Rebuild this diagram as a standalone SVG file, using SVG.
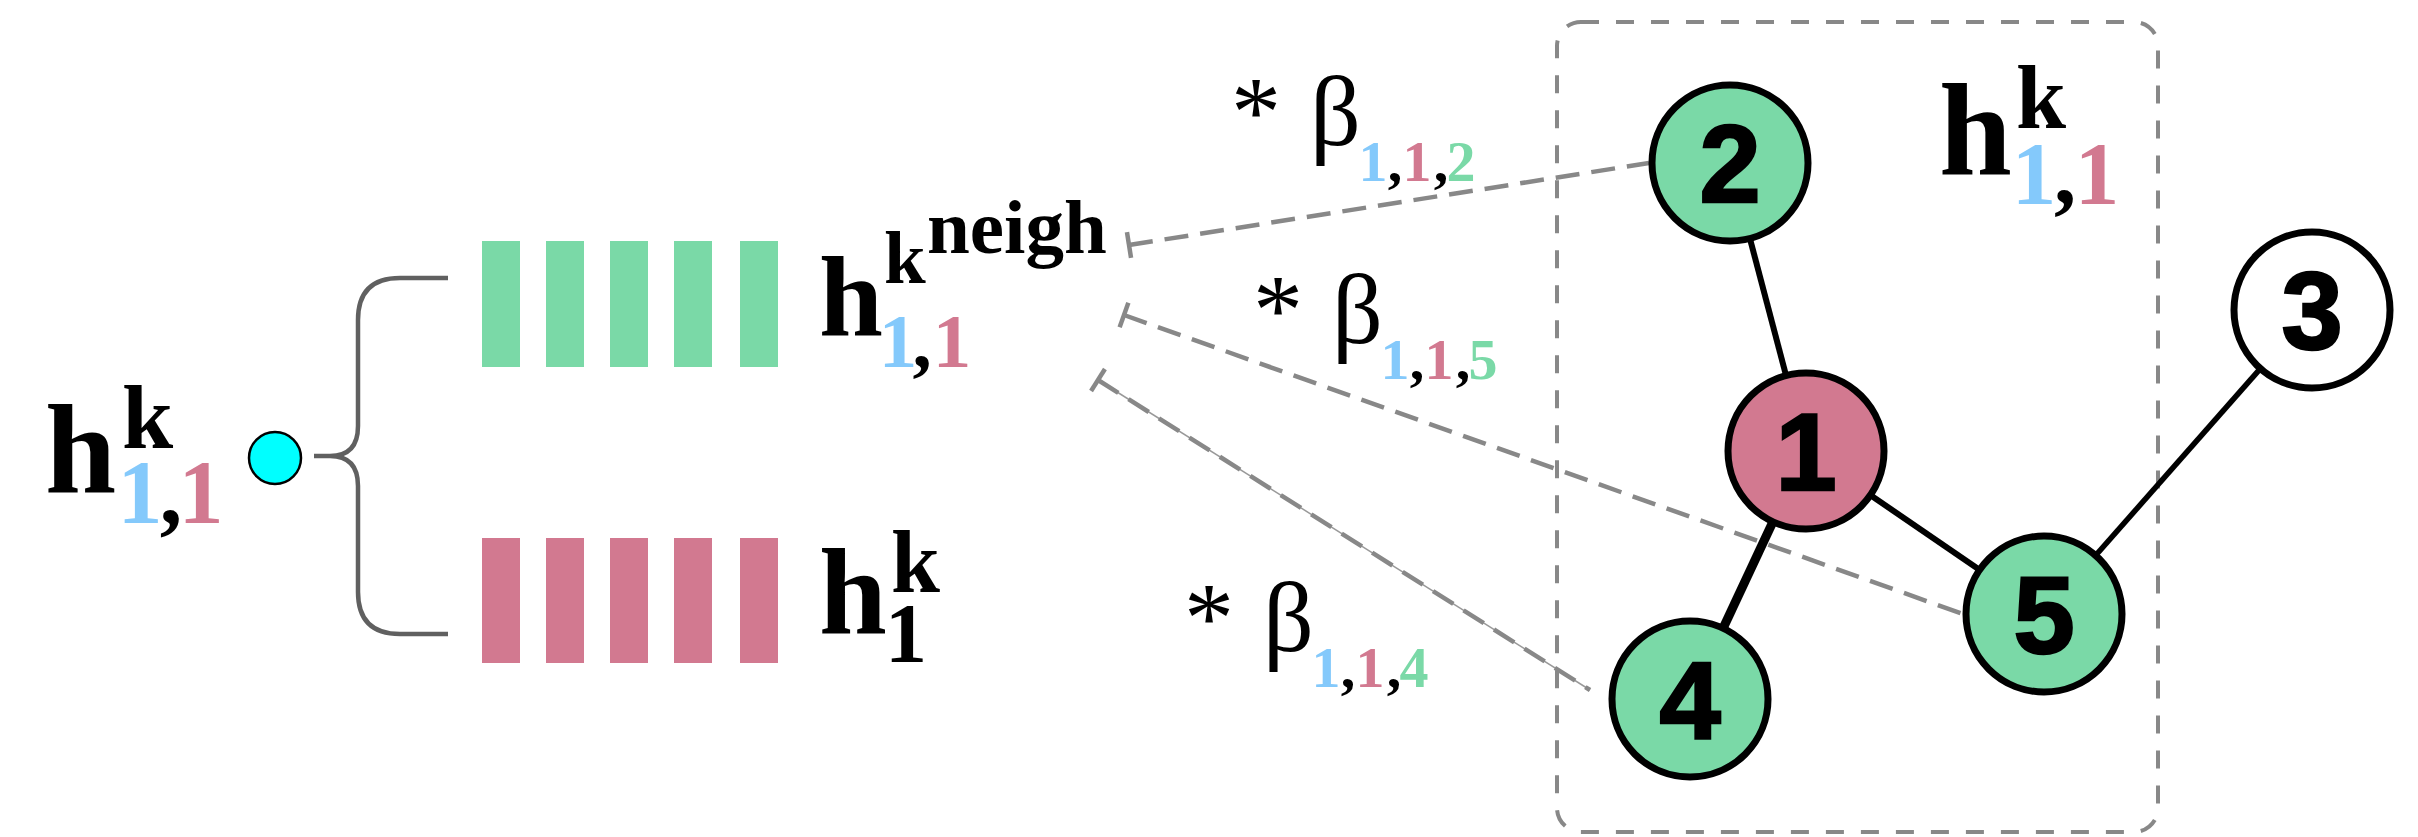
<svg xmlns="http://www.w3.org/2000/svg" width="2418" height="837" viewBox="0 0 2418 837">
<style>
.m{font-family:"Liberation Serif","Times New Roman",serif;font-weight:bold;fill:#000}
.r{font-family:"Liberation Serif","Times New Roman",serif;font-weight:normal;fill:#000}
.mid{text-anchor:middle}
.bl{fill:#84c9fb}
.pk{fill:#d27990}
.gr{fill:#7ad9a7}
.num{font-family:"Liberation Sans",Arial,sans-serif;font-weight:bold;font-size:110px;text-anchor:middle;fill:#000;stroke:#000;stroke-width:2.5}
.node{stroke:#000;stroke-width:7}
.edge{stroke:#000;fill:none;stroke-linecap:butt}
.dash{stroke:#888;stroke-width:4.5;fill:none;stroke-dasharray:24 12}
.bar-g{fill:#7ad9a7}
.bar-p{fill:#d27990}
</style>
<defs>
<marker id="tee" markerUnits="userSpaceOnUse" markerWidth="6" markerHeight="30" viewBox="0 0 6 30" refX="3" refY="15" orient="auto">
<path d="M3,2 L3,28" stroke="#888" stroke-width="4.5"/>
</marker>
</defs>

<!-- Left label h^k_{1,1} and cyan dot -->
<g id="label-left">
<text class="m" x="45" y="492" font-size="128">h</text>
<text class="m" x="122" y="448" font-size="92">k</text>
<text class="m mid bl" x="140" y="523" font-size="90">1</text>
<text class="m mid" x="171" y="523" font-size="90">,</text>
<text class="m mid pk" x="201" y="523" font-size="90">1</text>
</g>
<g id="dot">
<circle cx="275" cy="458" r="26" fill="#00ffff" stroke="#000" stroke-width="2.5"/>
</g>

<!-- Brace -->
<g id="brace">
<path d="M314,456 L330,456 Q358,456 358,426 L358,320 Q358,278 400,278 L448,278 M330,456 Q358,456 358,486 L358,592 Q358,634 400,634 L448,634" fill="none" stroke="#606060" stroke-width="4.5"/>
</g>

<!-- Green vector -->
<g id="vec-neigh">
<rect class="bar-g" x="482" y="241" width="38" height="126"/>
<rect class="bar-g" x="546" y="241" width="38" height="126"/>
<rect class="bar-g" x="610" y="241" width="38" height="126"/>
<rect class="bar-g" x="674" y="241" width="38" height="126"/>
<rect class="bar-g" x="740" y="241" width="38" height="126"/>
</g>
<g id="label-neigh">
<text class="m" x="819" y="336" font-size="115">h</text>
<text class="m" x="884" y="283" font-size="75">k</text>
<text class="m" x="927" y="253" font-size="77">neigh</text>
<text class="m mid bl" x="898" y="367" font-size="77">1</text>
<text class="m mid" x="922" y="367" font-size="77">,</text>
<text class="m mid pk" x="952" y="367" font-size="77">1</text>
</g>

<!-- Pink vector -->
<g id="vec-self">
<rect class="bar-p" x="482" y="538" width="38" height="125"/>
<rect class="bar-p" x="546" y="538" width="38" height="125"/>
<rect class="bar-p" x="610" y="538" width="38" height="125"/>
<rect class="bar-p" x="674" y="538" width="38" height="125"/>
<rect class="bar-p" x="740" y="538" width="38" height="125"/>
</g>
<g id="label-self">
<text class="m" x="819" y="633" font-size="122">h</text>
<text class="m" x="891" y="592" font-size="88">k</text>
<text class="m mid" x="906" y="662" font-size="84" fill="#cc8a9c">1</text>
</g>

<!-- Beta labels -->
<g id="beta-2">
<text class="r mid" x="1256" y="145" font-size="100">*</text>
<text class="r" x="1310" y="145" font-size="100">β</text>
<text class="m mid bl" x="1373" y="181" font-size="58">1</text>
<text class="m mid" x="1395" y="181" font-size="58">,</text>
<text class="m mid pk" x="1417" y="181" font-size="58">1</text>
<text class="m mid" x="1441" y="181" font-size="58">,</text>
<text class="m mid gr" x="1461" y="181" font-size="58">2</text>
</g>
<g id="beta-5" transform="translate(22,198)">
<text class="r mid" x="1256" y="145" font-size="100">*</text>
<text class="r" x="1310" y="145" font-size="100">β</text>
<text class="m mid bl" x="1373" y="181" font-size="58">1</text>
<text class="m mid" x="1395" y="181" font-size="58">,</text>
<text class="m mid pk" x="1417" y="181" font-size="58">1</text>
<text class="m mid" x="1441" y="181" font-size="58">,</text>
<text class="m mid gr" x="1461" y="181" font-size="58">5</text>
</g>
<g id="beta-4" transform="translate(-47,506)">
<text class="r mid" x="1256" y="145" font-size="100">*</text>
<text class="r" x="1310" y="145" font-size="100">β</text>
<text class="m mid bl" x="1373" y="181" font-size="58">1</text>
<text class="m mid" x="1395" y="181" font-size="58">,</text>
<text class="m mid pk" x="1417" y="181" font-size="58">1</text>
<text class="m mid" x="1441" y="181" font-size="58">,</text>
<text class="m mid gr" x="1461" y="181" font-size="58">4</text>
</g>

<!-- Neighbourhood box -->
<g id="neigh-box">
<rect x="1557" y="22" width="601" height="810" rx="24" fill="none" stroke="#888" stroke-width="4" stroke-dasharray="18 17"/>
<text class="m" x="1939" y="174" font-size="131">h</text>
<text class="m" x="2016" y="128" font-size="90">k</text>
<text class="m mid bl" x="2034" y="203" font-size="89">1</text>
<text class="m mid" x="2065" y="203" font-size="89">,</text>
<text class="m mid pk" x="2097" y="203" font-size="89">1</text>
</g>

<!-- Connectors -->
<g id="connectors">
<line class="dash" x1="1129" y1="245" x2="1649" y2="163" marker-start="url(#tee)"/>
<line class="dash" x1="1124" y1="315" x2="1963" y2="614" marker-start="url(#tee)"/>
<line x1="1098" y1="380" x2="1590" y2="690" stroke="#999" stroke-width="1.5"/>
<line class="dash" x1="1098" y1="380" x2="1590" y2="690" marker-start="url(#tee)"/>
<line class="edge" x1="1730" y1="163" x2="1806" y2="451" stroke-width="6"/>
<line class="edge" x1="1806" y1="451" x2="2044" y2="614" stroke-width="6"/>
<line class="edge" x1="1806" y1="451" x2="1690" y2="699" stroke-width="9"/>
<line class="edge" x1="2044" y1="614" x2="2312" y2="310" stroke-width="5.5"/>
</g>

<!-- Nodes -->
<g id="node-2"><circle class="node" cx="1730" cy="163" r="78" fill="#7ad9a7"/><text class="num" x="1730" y="202">2</text></g>
<g id="node-1"><circle class="node" cx="1806" cy="451" r="78" fill="#d27990"/><text class="num" x="1806" y="490">1</text></g>
<g id="node-3"><circle class="node" cx="2312" cy="310" r="78" fill="#ffffff"/><text class="num" x="2312" y="349">3</text></g>
<g id="node-4"><circle class="node" cx="1690" cy="699" r="78" fill="#7ad9a7"/><text class="num" x="1690" y="738">4</text></g>
<g id="node-5"><circle class="node" cx="2044" cy="614" r="78" fill="#7ad9a7"/><text class="num" x="2044" y="653">5</text></g>
</svg>
